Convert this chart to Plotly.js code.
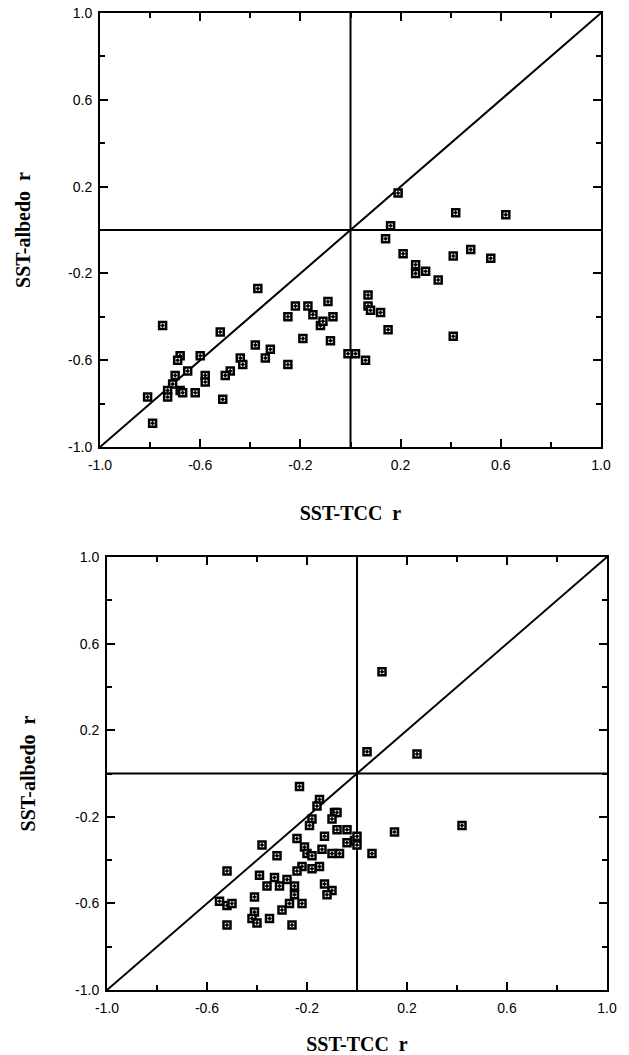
<!DOCTYPE html>
<html>
<head>
<meta charset="utf-8">
<script src="https://cdn.plot.ly/plotly-3.0.1.min.js"></script>
<style>html,body{margin:0;padding:0;background:#fff;}#chart{width:629px;height:1055px;}</style>
</head>
<body>
<div id="chart"></div>
<script>
// Top panel: SST-TCC r vs SST-albedo r
const topTCC = [-0.37,-0.22,-0.17,-0.25,-0.15,-0.12,-0.19,-0.25,-0.75,-0.52,-0.38,-0.32,-0.34,-0.44,-0.43,-0.48,-0.50,-0.60,-0.68,-0.69,-0.65,-0.58,-0.58,-0.70,-0.71,-0.73,-0.73,-0.68,-0.67,-0.62,-0.51,-0.81,-0.79,0.16,0.14,0.21,0.26,0.26,0.30,0.35,0.41,0.48,0.56,0.41,0.07,0.07,0.08,0.12,0.15,-0.01,0.02,0.06,-0.09,-0.11,-0.07,-0.08,0.19,0.42,0.62];
const topAlbedo = [-0.27,-0.35,-0.35,-0.40,-0.39,-0.44,-0.50,-0.62,-0.44,-0.47,-0.53,-0.55,-0.59,-0.59,-0.62,-0.65,-0.67,-0.58,-0.58,-0.60,-0.65,-0.67,-0.70,-0.67,-0.71,-0.74,-0.77,-0.74,-0.75,-0.75,-0.78,-0.77,-0.89,0.02,-0.04,-0.11,-0.16,-0.20,-0.19,-0.23,-0.12,-0.09,-0.13,-0.49,-0.30,-0.35,-0.37,-0.38,-0.46,-0.57,-0.57,-0.60,-0.33,-0.42,-0.40,-0.51,0.17,0.08,0.07];

// Bottom panel
const botTCC = [-0.23,-0.15,-0.16,-0.09,-0.08,-0.18,-0.10,-0.19,-0.08,-0.04,-0.24,-0.13,-0.04,-0.01,0.00,0.00,-0.38,-0.21,-0.14,-0.32,-0.20,-0.18,-0.10,-0.07,-0.15,-0.22,-0.24,-0.18,-0.52,-0.39,-0.33,-0.28,-0.36,-0.31,-0.25,-0.13,-0.10,-0.12,-0.25,-0.41,-0.55,-0.52,-0.50,-0.27,-0.22,-0.30,-0.41,-0.42,-0.40,-0.35,-0.52,-0.26,0.10,0.04,0.24,0.15,0.42,0.06];
const botAlbedo = [-0.06,-0.12,-0.15,-0.18,-0.18,-0.21,-0.21,-0.24,-0.26,-0.26,-0.30,-0.29,-0.32,-0.31,-0.29,-0.33,-0.33,-0.34,-0.35,-0.38,-0.37,-0.38,-0.37,-0.37,-0.43,-0.43,-0.45,-0.44,-0.45,-0.47,-0.48,-0.49,-0.52,-0.52,-0.52,-0.51,-0.54,-0.56,-0.56,-0.57,-0.59,-0.61,-0.60,-0.60,-0.60,-0.63,-0.64,-0.67,-0.69,-0.67,-0.70,-0.70,0.47,0.10,0.09,-0.27,-0.24,-0.37];

// Reference lines
const diagX = [-1, 1];
const diagY = [-1, 1];
const zeroLine = [0, 0];
const fullSpan = [-1, 1];

// Tick labels
const tickVals = [-1.0, -0.6, -0.2, 0.2, 0.6, 1.0];
const tickText = ["-1.0", "-0.6", "-0.2", "0.2", "0.6", "1.0"];

const xTitle = "SST-TCC\u00A0\u00A0r";
const yTitle = "SST-albedo\u00A0\u00A0r";

const lineStyle = {color: '#000', width: 2};
const markerStyle = {symbol: 'square-dot', size: 7, color: '#fff', line: {color: '#000', width: 2.5}};

function refLines(xa, ya) {
  return [
    {x: diagX, y: diagY, xaxis: xa, yaxis: ya, mode: 'lines', line: lineStyle, hoverinfo: 'skip'},
    {x: fullSpan, y: zeroLine, xaxis: xa, yaxis: ya, mode: 'lines', line: lineStyle, hoverinfo: 'skip'},
    {x: zeroLine, y: fullSpan, xaxis: xa, yaxis: ya, mode: 'lines', line: lineStyle, hoverinfo: 'skip'}
  ];
}

const data = [
  ...refLines('x', 'y'),
  {x: topTCC, y: topAlbedo, xaxis: 'x', yaxis: 'y', mode: 'markers', marker: markerStyle},
  ...refLines('x2', 'y2'),
  {x: botTCC, y: botAlbedo, xaxis: 'x2', yaxis: 'y2', mode: 'markers', marker: markerStyle}
];

const tickFont = {family: 'Liberation Sans, Arial, sans-serif', size: 14, color: '#000'};
const titleFont = {family: 'Liberation Serif, Times New Roman, serif', size: 20, color: '#000', weight: 'bold'};

function axis(domain, anchor, isX, standoff) {
  return {
    domain: domain, anchor: anchor, range: [-1, 1],
    showgrid: false, zeroline: false,
    showline: true, linecolor: '#000', linewidth: 2, mirror: 'ticks',
    ticks: 'inside', ticklen: 8, tickwidth: 2, tickcolor: '#000',
    tickmode: 'array', tickvals: tickVals, ticktext: tickText,
    ticklabelstandoff: isX ? 4 : 3,
    minor: {ticks: 'inside', dtick: 0.2, tick0: -1, ticklen: 5, tickwidth: 2, tickcolor: '#000', showgrid: false},
    tickfont: tickFont,
    title: {text: isX ? xTitle : yTitle, font: titleFont, standoff: standoff},
    automargin: false, fixedrange: true
  };
}

const layout = {
  width: 629, height: 1055,
  margin: {l: 0, r: 0, t: 0, b: 0},
  paper_bgcolor: '#fff', plot_bgcolor: '#fff',
  showlegend: false,
  xaxis: axis([100/629, 601/629], 'y', true, 34),
  yaxis: axis([1 - 447/1055, 1 - 13/1055], 'x', false, 32),
  xaxis2: axis([107/629, 607/629], 'y2', true, 23),
  yaxis2: axis([1 - 990/1055, 1 - 557/1055], 'x2', false, 34)
};

Plotly.newPlot('chart', data, layout, {staticPlot: true, displayModeBar: false});
</script>
</body>
</html>
